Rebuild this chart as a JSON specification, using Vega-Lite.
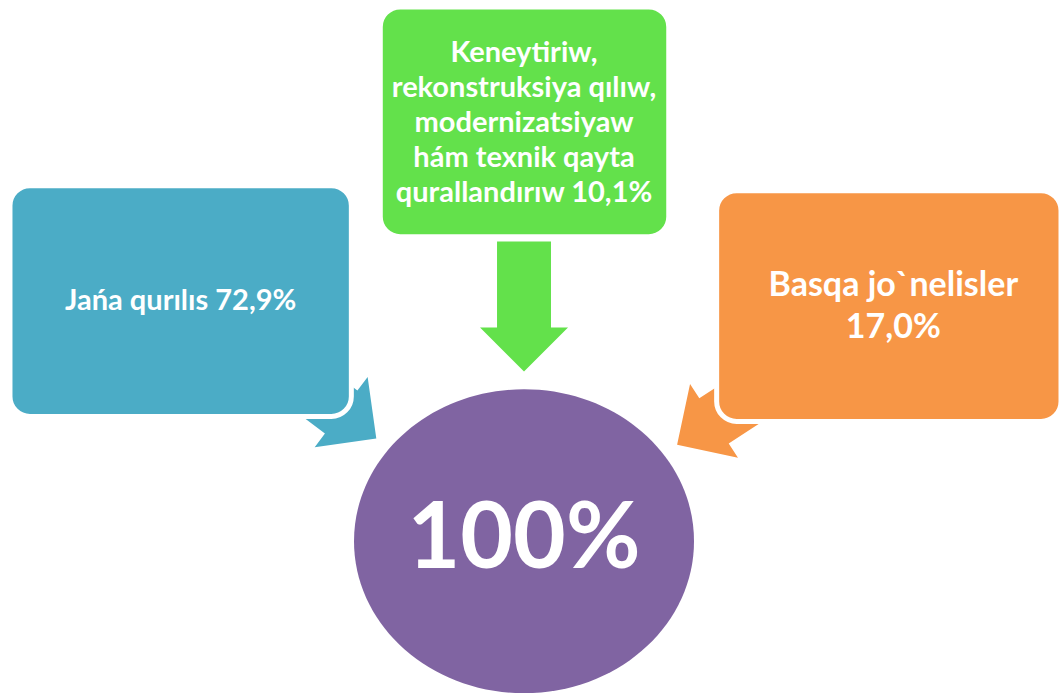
{
  "$schema": "https://vega.github.io/schema/vega-lite/v6.json",
  "width": 1064,
  "height": 693,
  "autosize": {"type": "fit", "contains": "padding"},
  "padding": 0,
  "background": "white",
  "config": {"view": {"stroke": null}},
  "datasets": {
    "boxes": [
      {"name": "Jańa qurılıs", "x": 10, "x2": 352, "y": 186, "y2": 417},
      {"name": "Keneytiriw", "x": 381, "x2": 670, "y": 7, "y2": 237},
      {"name": "Basqa", "x": 718, "x2": 1063, "y": 191, "y2": 422}
    ],
    "arrows": [
      {"name": "Jańa qurılıs", "x": 325, "y": 400, "dir": -53},
      {"name": "Keneytiriw", "x": 525, "y": 307, "dir": 0},
      {"name": "Basqa", "x": 733, "y": 410, "dir": 57}
    ],
    "total": [
      {"name": "Jámi", "x": 525, "y": 542, "label": "100%"}
    ],
    "labels": [
      {"name": "Jańa qurılıs", "x": 181, "y": 301, "label": "Jańa qurılıs 72,9%"},
      {"name": "Keneytiriw", "x": 525, "y": 53, "label": "Keneytiriw,\nrekonstruksiya qılıw,\nmodernizatsiyaw\nhám texnik qayta\nqurallandırıw 10,1%"},
      {"name": "Basqa", "x": 895, "y": 286, "label": "Basqa jo`nelisler\n17,0%"}
    ]
  },
  "layer": [
    {
      "data": {"name": "arrows"},
      "mark": {
        "type": "point",
        "filled": true,
        "opacity": 1,
        "size": 16900,
        "strokeWidth": 0,
        "shape": "M-0.415,-1 L0.415,-1 L0.415,0.323 L0.677,0.323 L0,1 L-0.677,0.323 L-0.415,0.323 Z"
      },
      "encoding": {
        "x": {"field": "x", "type": "quantitative", "scale": {"domain": [0, 1064], "nice": false, "zero": false}, "axis": null},
        "y": {"field": "y", "type": "quantitative", "scale": {"domain": [0, 693], "nice": false, "zero": false, "reverse": true}, "axis": null},
        "angle": {"field": "dir", "type": "quantitative", "scale": null},
        "color": {"field": "name", "type": "nominal", "legend": null,
          "scale": {"domain": ["Jańa qurılıs", "Keneytiriw", "Basqa", "Jámi"], "range": ["#4BACC6", "#63E14B", "#F79646", "#8064A2"]}}
      }
    },
    {
      "data": {"name": "boxes"},
      "mark": {"type": "rect", "cornerRadius": 20, "stroke": "white", "strokeWidth": 5, "opacity": 1},
      "encoding": {
        "x": {"field": "x", "type": "quantitative", "axis": null},
        "x2": {"field": "x2"},
        "y": {"field": "y", "type": "quantitative", "axis": null},
        "y2": {"field": "y2"},
        "color": {"field": "name", "type": "nominal", "legend": null}
      }
    },
    {
      "data": {"name": "total"},
      "mark": {
        "type": "point",
        "filled": true,
        "opacity": 1,
        "size": 115600,
        "strokeWidth": 0,
        "shape": "M-1,0 A1,0.894 0 1,0 1,0 A1,0.894 0 1,0 -1,0 Z"
      },
      "encoding": {
        "x": {"field": "x", "type": "quantitative", "axis": null},
        "y": {"field": "y", "type": "quantitative", "axis": null},
        "color": {"field": "name", "type": "nominal", "legend": null}
      }
    },
    {
      "data": {"name": "total"},
      "mark": {"type": "text", "font": "Lato", "fontWeight": "bold", "fontSize": 91, "color": "white", "align": "center", "baseline": "middle"},
      "encoding": {
        "x": {"field": "x", "type": "quantitative", "axis": null},
        "y": {"field": "y", "type": "quantitative", "axis": null},
        "text": {"field": "label"}
      }
    },
    {
      "data": {"name": "labels"},
      "transform": [{"filter": "datum.name === 'Jańa qurılıs'"}],
      "mark": {"type": "text", "font": "Lato", "fontWeight": "bold", "fontSize": 29, "color": "white", "align": "center", "baseline": "middle", "lineBreak": "\n"},
      "encoding": {
        "x": {"field": "x", "type": "quantitative", "axis": null},
        "y": {"field": "y", "type": "quantitative", "axis": null},
        "text": {"field": "label"}
      }
    },
    {
      "data": {"name": "labels"},
      "transform": [{"filter": "datum.name === 'Keneytiriw'"}],
      "mark": {"type": "text", "font": "Lato", "fontWeight": "bold", "fontSize": 29, "lineHeight": 35, "color": "white", "align": "center", "baseline": "middle", "lineBreak": "\n"},
      "encoding": {
        "x": {"field": "x", "type": "quantitative", "axis": null},
        "y": {"field": "y", "type": "quantitative", "axis": null},
        "text": {"field": "label"}
      }
    },
    {
      "data": {"name": "labels"},
      "transform": [{"filter": "datum.name === 'Basqa'"}],
      "mark": {"type": "text", "font": "Lato", "fontWeight": "bold", "fontSize": 34, "lineHeight": 42, "color": "white", "align": "center", "baseline": "middle", "lineBreak": "\n"},
      "encoding": {
        "x": {"field": "x", "type": "quantitative", "axis": null},
        "y": {"field": "y", "type": "quantitative", "axis": null},
        "text": {"field": "label"}
      }
    }
  ]
}
